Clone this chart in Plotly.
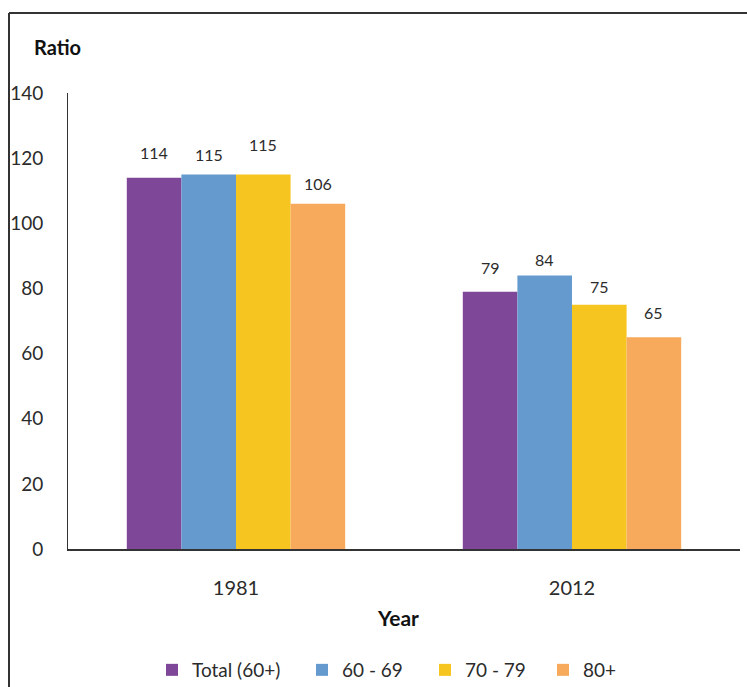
import plotly.graph_objects as go

# Data
years = ["1981", "2012"]
series_names = ["Total (60+)", "60 - 69", "70 - 79", "80+"]
total_60_plus = [114, 79]
age_60_69 = [115, 84]
age_70_79 = [115, 75]
age_80_plus = [106, 65]
y_ticks = [0, 20, 40, 60, 80, 100, 120, 140]

series_values = [total_60_plus, age_60_69, age_70_79, age_80_plus]
colors = ["#7E4798", "#659ACF", "#F7C520", "#F7A95C"]
# pixel lift of each value label above its bar (per series, per year)
label_lift = [[25, 24], [20, 16], [30, 18], [20, 25]]

FONT = "Lato"
TXT = "#2b2b2b"
L, R, T, B = 68, 7, 93, 138
W, H = 747, 687
pw = W - L - R
ph = H - T - B

# legend entry positions (container x, px -> fraction)
legend_px = [152, 302, 425, 543]
legend_x = [p / W for p in legend_px]

fig = go.Figure()
legend_keys = ["legend", "legend2", "legend3", "legend4"]
for i, (name, vals, col) in enumerate(zip(series_names, series_values, colors)):
    fig.add_trace(go.Bar(
        x=years, y=vals, name=name, marker_color=col,
        marker_line_width=0, legend=legend_keys[i],
    ))

# value labels above the bars, placed via group geometry
n = len(series_names)
bargap = 0.35
bw = (1 - bargap) / n
annotations = []
for i, vals in enumerate(series_values):
    for j, v in enumerate(vals):
        xc = j - (1 - bargap) / 2 + bw * (i + 0.5)
        annotations.append(dict(
            x=xc, y=v, xref="x", yref="y", text=str(v), showarrow=False,
            yanchor="middle", yshift=label_lift[i][j],
            font=dict(family=FONT, size=16, color=TXT),
        ))

annotations.append(dict(
    x=(57 - L) / pw, y=(549 - 47) / ph, xref="paper", yref="paper",
    text="<b>Ratio</b>", showarrow=False, xanchor="center", yanchor="middle",
    font=dict(family=FONT, size=20, color="#111111"),
))
annotations.append(dict(
    x=(398 - L) / pw, y=(549 - 617) / ph, xref="paper", yref="paper",
    text="<b>Year</b>", showarrow=False, xanchor="center", yanchor="middle",
    font=dict(family=FONT, size=21, color="#111111"),
))

legend_common = dict(
    orientation="h", yanchor="middle", xanchor="left",
    xref="container", yref="container",
    y=(H - 670) / H, bgcolor="rgba(0,0,0,0)",
    font=dict(family=FONT, size=19, color=TXT),
)
layout_legends = {}
for k, lx in zip(legend_keys, legend_x):
    layout_legends[k] = dict(legend_common, x=lx)

# frame around the chart
x_left = (9 - L) / pw
y_top = (549 - 13) / ph
x_right = (W - L) / pw
y_bottom = (549 - H - 5) / ph
shapes = [
    dict(type="line", xref="paper", yref="paper", x0=x_left, x1=x_left,
         y0=y_bottom, y1=y_top, line=dict(color="#333333", width=2)),
    dict(type="line", xref="paper", yref="paper", x0=x_left, x1=x_right,
         y0=y_top, y1=y_top, line=dict(color="#333333", width=2)),
]

fig.update_layout(
    width=W, height=H,
    margin=dict(l=L, r=R, t=T, b=B, pad=0),
    paper_bgcolor="white", plot_bgcolor="white",
    barmode="group", bargap=bargap, bargroupgap=0,
    showlegend=True,
    annotations=annotations,
    shapes=shapes,
    **layout_legends,
)
fig.update_xaxes(
    type="category", showgrid=False, zeroline=False,
    showline=True, linecolor="#333333", linewidth=2,
    ticks="", ticklabelstandoff=20,
    tickfont=dict(family=FONT, size=20, color=TXT),
)
fig.update_yaxes(
    range=[0, 140], tickvals=y_ticks, showgrid=False, zeroline=False,
    showline=True, linecolor="#333333", linewidth=1,
    ticks="", ticklabelstandoff=20,
    tickfont=dict(family=FONT, size=19, color=TXT),
)

fig.write_html("out.html")
